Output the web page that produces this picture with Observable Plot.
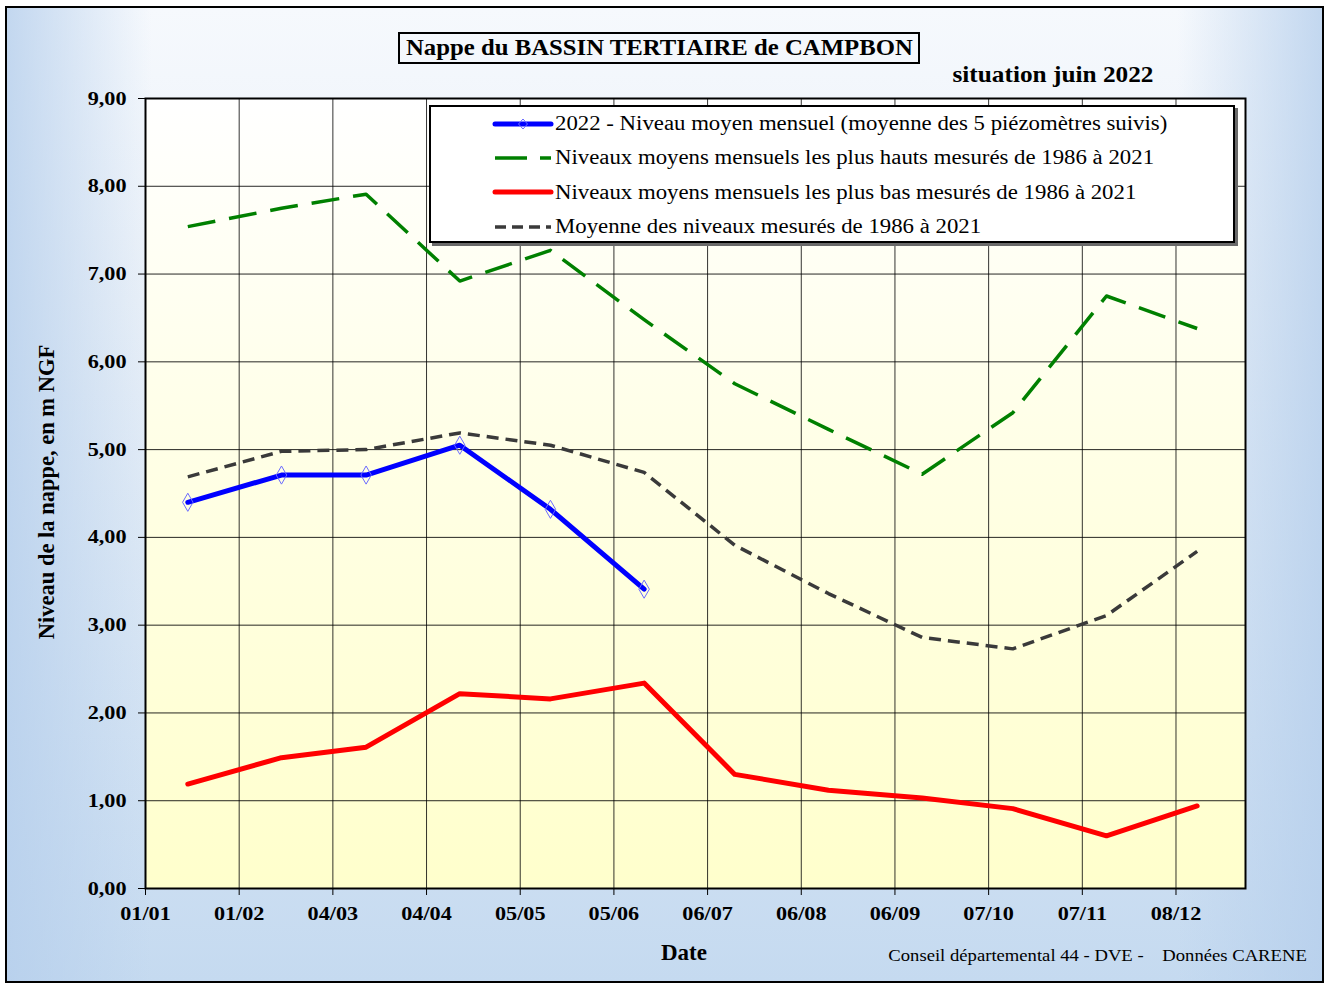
<!DOCTYPE html>
<html>
<head>
<meta charset="utf-8">
<script src="https://cdn.jsdelivr.net/npm/d3@7"></script>
<script src="https://cdn.jsdelivr.net/npm/@observablehq/plot@0.6"></script>
<style>
  body { margin: 0; background: #ffffff; }
  #chart { position: relative; width: 1330px; height: 985px; overflow: hidden;
           font-family: "Liberation Serif", "Times New Roman", serif; color: #000; }
  #bg { position: absolute; left: 5px; top: 6px; width: 1315px; height: 973px; border: 2px solid #000;
        background:
          linear-gradient(to right, rgba(182,207,236,0.8) 0%, rgba(182,207,236,0) 11%, rgba(182,207,236,0) 89%, rgba(182,207,236,0.8) 100%),
          linear-gradient(to bottom, #f6f9fd 0%, #e9f0f8 30%, #c5daf0 100%); }
  #plotbg { position: absolute; left: 145px; top: 98px; width: 1100px; height: 790px;
            background: linear-gradient(to bottom, #ffffff 0%, #ffffe6 45%, #ffffcc 100%); }
  #plot { position: absolute; left: 0; top: 0; }
  .t { position: absolute; white-space: pre; line-height: 1; font-family: "Liberation Serif", "Times New Roman", serif; }
  #titlebox { position: absolute; left: 398px; top: 32px; width: 518px; height: 28px; border: 2px solid #000;
              display: flex; align-items: center; justify-content: center; }
  #titlebox span { display: inline-block; font-weight: bold; font-size: 22.5px; line-height: 1; white-space: pre; transform: scaleX(1.1); }
  #legend { position: absolute; left: 429px; top: 105px; width: 802px; height: 134px; border: 2px solid #000;
            background: #fff; box-shadow: 3px 3px 0 #6a6a6a; }
</style>
</head>
<body>
<div id="chart">
  <div id="bg"></div>
  <div id="plotbg"></div>
  <div id="plot"></div>
</div>
<script>
// ---- data ----
const monthDates = ["2022-01-15","2022-02-15","2022-03-15","2022-04-15","2022-05-15","2022-06-15",
                    "2022-07-15","2022-08-15","2022-09-15","2022-10-15","2022-11-15","2022-12-15"];
const niveau2022 = [4.40, 4.71, 4.71, 5.05, 4.32, 3.41];
const plusHauts  = [7.54, 7.75, 7.91, 6.92, 7.27, 6.48, 5.75, 5.23, 4.72, 5.42, 6.75, 6.38];
const plusBas    = [1.19, 1.49, 1.61, 2.22, 2.16, 2.34, 1.30, 1.12, 1.03, 0.91, 0.60, 0.94];
const moyenne    = [4.69, 4.98, 5.00, 5.19, 5.05, 4.74, 3.91, 3.36, 2.86, 2.73, 3.11, 3.84];

const tickDates  = ["2022-01-01","2022-02-01","2022-03-04","2022-04-04","2022-05-05","2022-06-05",
                    "2022-07-06","2022-08-06","2022-09-06","2022-10-07","2022-11-07","2022-12-08"];
const tickLabels = ["01/01","01/02","04/03","04/04","05/05","05/06","06/07","06/08","06/09","07/10","07/11","08/12"];
const yTicks     = [0,1,2,3,4,5,6,7,8,9];
const xDomain    = ["2022-01-01","2022-12-31"];

const legendLabels = [
  "2022 - Niveau moyen mensuel (moyenne des 5 piézomètres suivis)",
  "Niveaux moyens mensuels les plus hauts mesurés de 1986 à 2021",
  "Niveaux moyens mensuels les plus bas mesurés de 1986 à 2021",
  "Moyenne des niveaux mesurés de 1986 à 2021"
];
const titleText    = "Nappe du BASSIN TERTIAIRE de CAMPBON";
const subtitleText = "situation juin 2022";
const yTitle       = "Niveau de la nappe, en m NGF";
const xTitle       = "Date";
const captionText  = "Conseil départemental 44 - DVE -    Données CARENE";

// ---- build ----
const parse = d3.utcParse("%Y-%m-%d");
const series = (vals) => vals.map((v, i) => ({date: parse(monthDates[i]), value: v}));
const d2022 = series(niveau2022), dHaut = series(plusHauts), dBas = series(plusBas), dMoy = series(moyenne);
const ticks = tickDates.map(parse);
const labelOf = new Map(ticks.map((t, i) => [+t, tickLabels[i]]));
const fmtY = d => d.toFixed(2).replace(".", ",");
const axisFont = {fontSize: 19, fontWeight: "bold", fontFamily: "Liberation Serif", fill: "#000"};

const styles = {
  blue:  {stroke: "#0000ff", strokeWidth: 5},
  green: {stroke: "#008000", strokeWidth: 3.5, strokeDasharray: "28 14", strokeLinecap: "butt"},
  red:   {stroke: "#ff0000", strokeWidth: 5},
  dark:  {stroke: "#3a3a3a", strokeWidth: 3.5, strokeDasharray: "12 7", strokeLinecap: "butt"}
};

const plot = Plot.plot({
  width: 1330, height: 985,
  marginLeft: 145, marginRight: 85, marginTop: 98, marginBottom: 97,
  style: {background: "transparent", overflow: "visible"},
  x: {type: "utc", domain: xDomain.map(parse)},
  y: {domain: [0, 9]},
  marks: [
    Plot.gridY(yTicks, {stroke: "#000", strokeOpacity: 0.85, strokeWidth: 1}),
    Plot.gridX(ticks, {stroke: "#000", strokeOpacity: 0.8, strokeWidth: 1}),
    Plot.line(dHaut, {x: "date", y: "value", ...styles.green}),
    Plot.line(dMoy,  {x: "date", y: "value", ...styles.dark}),
    Plot.line(dBas,  {x: "date", y: "value", ...styles.red}),
    Plot.line(d2022, {x: "date", y: "value", ...styles.blue}),
    Plot.dot(d2022, {x: "date", y: "value", symbol: "diamond", r: 5.5, stroke: "#6b6bff", strokeWidth: 1, fill: "none"}),
    Plot.axisY(yTicks, {tickFormat: fmtY, tickSize: 7, tickPadding: 12, label: null, stroke: "#000", ...axisFont}),
    Plot.axisX(ticks, {tickFormat: d => labelOf.get(+d), tickSize: 7, tickPadding: 11, label: null, stroke: "#000", ...axisFont}),
    Plot.frame({stroke: "#000", strokeWidth: 2})
  ]
});

// widen tick label glyphs horizontally (reference type is wide)
plot.querySelectorAll("text").forEach(t => {
  const tr = t.getAttribute("transform");
  if (tr && /translate/.test(tr)) t.setAttribute("transform", tr + " scale(1.17,1)");
  else {
    const x = +t.getAttribute("x") || 0, y = +t.getAttribute("y") || 0;
    t.setAttribute("transform", `translate(${x},${y}) scale(1.17,1) translate(${-x},${-y})`);
  }
});
document.getElementById("plot").appendChild(plot);

const chart = document.getElementById("chart");
function addText(txt, opts) {
  const el = document.createElement("div");
  el.className = "t";
  el.textContent = txt;
  Object.assign(el.style, opts);
  chart.appendChild(el);
  return el;
}

// title box
const tb = document.createElement("div");
tb.id = "titlebox";
const ts = document.createElement("span");
ts.textContent = titleText;
tb.appendChild(ts);
chart.appendChild(tb);

// subtitle (center x 1053, baseline ~82)
addText(subtitleText, {left: "1053px", top: (82 - 0.8375 * 23) + "px", fontSize: "23px", fontWeight: "bold",
  transform: "translateX(-50%) scaleX(1.1)", transformOrigin: "50% 0"});

// y title rotated
addText(yTitle, {left: "47px", top: "492px", fontSize: "22.5px", fontWeight: "bold",
  transform: "translate(-50%,-50%) rotate(-90deg)"});

// x title
addText(xTitle, {left: "684px", top: (960 - 0.8375 * 23) + "px", fontSize: "23px", fontWeight: "bold",
  transform: "translateX(-50%)"});

// caption, right aligned at 1307
addText(captionText, {right: (1330 - 1307) + "px", top: (961.5 - 0.8375 * 17.6) + "px", fontSize: "17.6px",
  transform: "scaleX(1.06)", transformOrigin: "100% 0"});

// legend
const lg = document.createElement("div");
lg.id = "legend";
chart.appendChild(lg);
const sampleDefs = [
  {s: styles.blue, dash: null, marker: true},
  {s: styles.green, dash: "32 13"},
  {s: styles.red, dash: null},
  {s: styles.dark, dash: "11 6"}
];
const ns = "http://www.w3.org/2000/svg";
legendLabels.forEach((lab, i) => {
  const cy = 123.5 + i * 34.4;           // page coords
  const sv = document.createElementNS(ns, "svg");
  sv.setAttribute("width", "70"); sv.setAttribute("height", "16");
  sv.style.position = "absolute";
  sv.style.left = (495 - 431 - 5) + "px";
  sv.style.top = (cy - 107 - 8) + "px";
  const ln = document.createElementNS(ns, "line");
  ln.setAttribute("x1", 5); ln.setAttribute("x2", 61);
  ln.setAttribute("y1", 8); ln.setAttribute("y2", 8);
  ln.setAttribute("stroke", sampleDefs[i].s.stroke);
  ln.setAttribute("stroke-width", sampleDefs[i].s.strokeWidth);
  if (sampleDefs[i].dash) ln.setAttribute("stroke-dasharray", sampleDefs[i].dash);
  else ln.setAttribute("stroke-linecap", "round");
  sv.appendChild(ln);
  if (sampleDefs[i].marker) {
    const p = document.createElementNS(ns, "path");
    p.setAttribute("d", "M33,3 L37.5,8 L33,13 L28.5,8 Z");
    p.setAttribute("fill", "none"); p.setAttribute("stroke", "#6b6bff"); p.setAttribute("stroke-width", "1");
    sv.appendChild(p);
  }
  lg.appendChild(sv);
  const tx = document.createElement("div");
  tx.className = "t";
  tx.textContent = lab;
  Object.assign(tx.style, {left: (555 - 431) + "px", top: (cy + 6 - 107 - 0.8375 * 20) + "px", fontSize: "20px",
    transform: "scaleX(1.14)", transformOrigin: "0 0"});
  lg.appendChild(tx);
});
</script>
</body>
</html>
